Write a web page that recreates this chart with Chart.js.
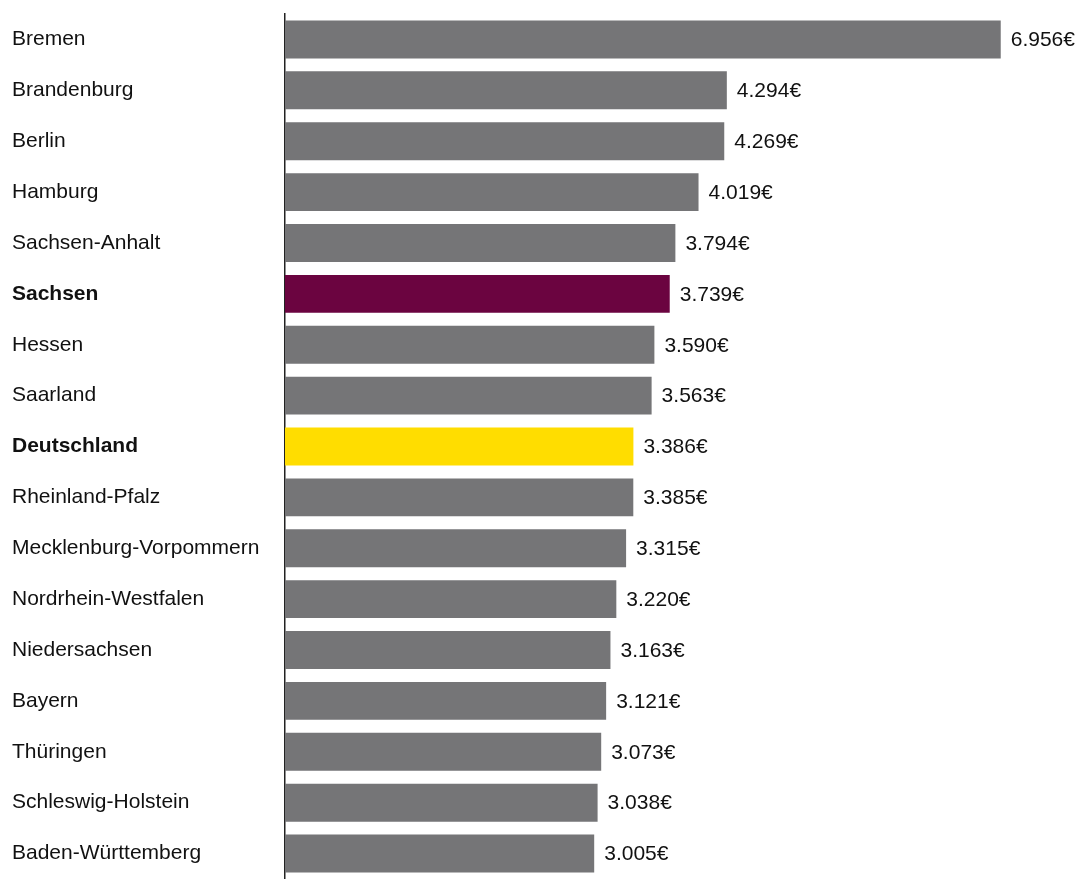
<!DOCTYPE html>
<html>
<head>
<meta charset="utf-8">
<script src="https://cdn.jsdelivr.net/npm/chart.js@4/dist/chart.umd.min.js"></script>
<style>
  html, body { margin: 0; padding: 0; background: #fff; overflow: hidden; }
  canvas { display: block; }
</style>
</head>
<body>
<canvas id="chart" width="1079" height="879"></canvas>
<script>
// Daten
const laender = ['Bremen', 'Brandenburg', 'Berlin', 'Hamburg', 'Sachsen-Anhalt', 'Sachsen', 'Hessen', 'Saarland',
    'Deutschland', 'Rheinland-Pfalz', 'Mecklenburg-Vorpommern', 'Nordrhein-Westfalen', 'Niedersachsen', 'Bayern',
    'Thüringen', 'Schleswig-Holstein', 'Baden-Württemberg'];
const werte = [6956, 4294, 4269, 4019, 3794, 3739, 3590, 3563, 3386, 3385, 3315, 3220, 3163, 3121, 3073, 3038, 3005];
const hervorgehoben = ['Sachsen', 'Deutschland'];

const FONT = '"Liberation Sans", Arial, sans-serif';
const farben = laender.map(l => l === 'Sachsen' ? '#6b0440' : (l === 'Deutschland' ? '#ffdd00' : '#757577'));

const fmt = v => v.toLocaleString('de-DE') + '€';

// Werte rechts neben den Balken
const wertLabels = {
    id: 'wertLabels',
    afterDatasetsDraw(chart) {
        const ctx = chart.ctx;
        const meta = chart.getDatasetMeta(0);
        ctx.save();
        ctx.font = '21px ' + FONT;
        ctx.fillStyle = '#111';
        ctx.textAlign = 'left';
        ctx.textBaseline = 'middle';
        meta.data.forEach((bar, i) => {
            ctx.fillText(fmt(werte[i]), bar.x + 10, bar.y + 1);
        });
        ctx.restore();
    }
};

new Chart(document.getElementById('chart'), {
    type: 'bar',
    data: {
        labels: laender,
        datasets: [{
            data: werte,
            backgroundColor: farben,
            borderWidth: 0,
            barPercentage: 0.745,
            categoryPercentage: 1
        }]
    },
    options: {
        indexAxis: 'y',
        responsive: false,
        animation: false,
        devicePixelRatio: 1,
        layout: { autoPadding: false, padding: { left: 12, right: 12, top: 14, bottom: 0 } },
        plugins: { legend: { display: false }, tooltip: { enabled: false } },
        scales: {
            x: { display: false, min: 0, max: 7600 },
            y: {
                grid: { display: false, drawTicks: false },
                border: { display: true, color: '#222', width: 1.5 },
                ticks: {
                    crossAlign: 'far',
                    color: '#111',
                    font: (c) => ({
                        family: FONT,
                        size: 21,
                        weight: hervorgehoben.includes(laender[c.index]) ? 'bold' : 'normal'
                    })
                },
                afterFit: (scale) => {
                    scale.width = 273;
                    scale.paddingTop = 0;
                    scale.paddingBottom = 0;
                }
            }
        }
    },
    plugins: [wertLabels]
});
</script>
</body>
</html>
